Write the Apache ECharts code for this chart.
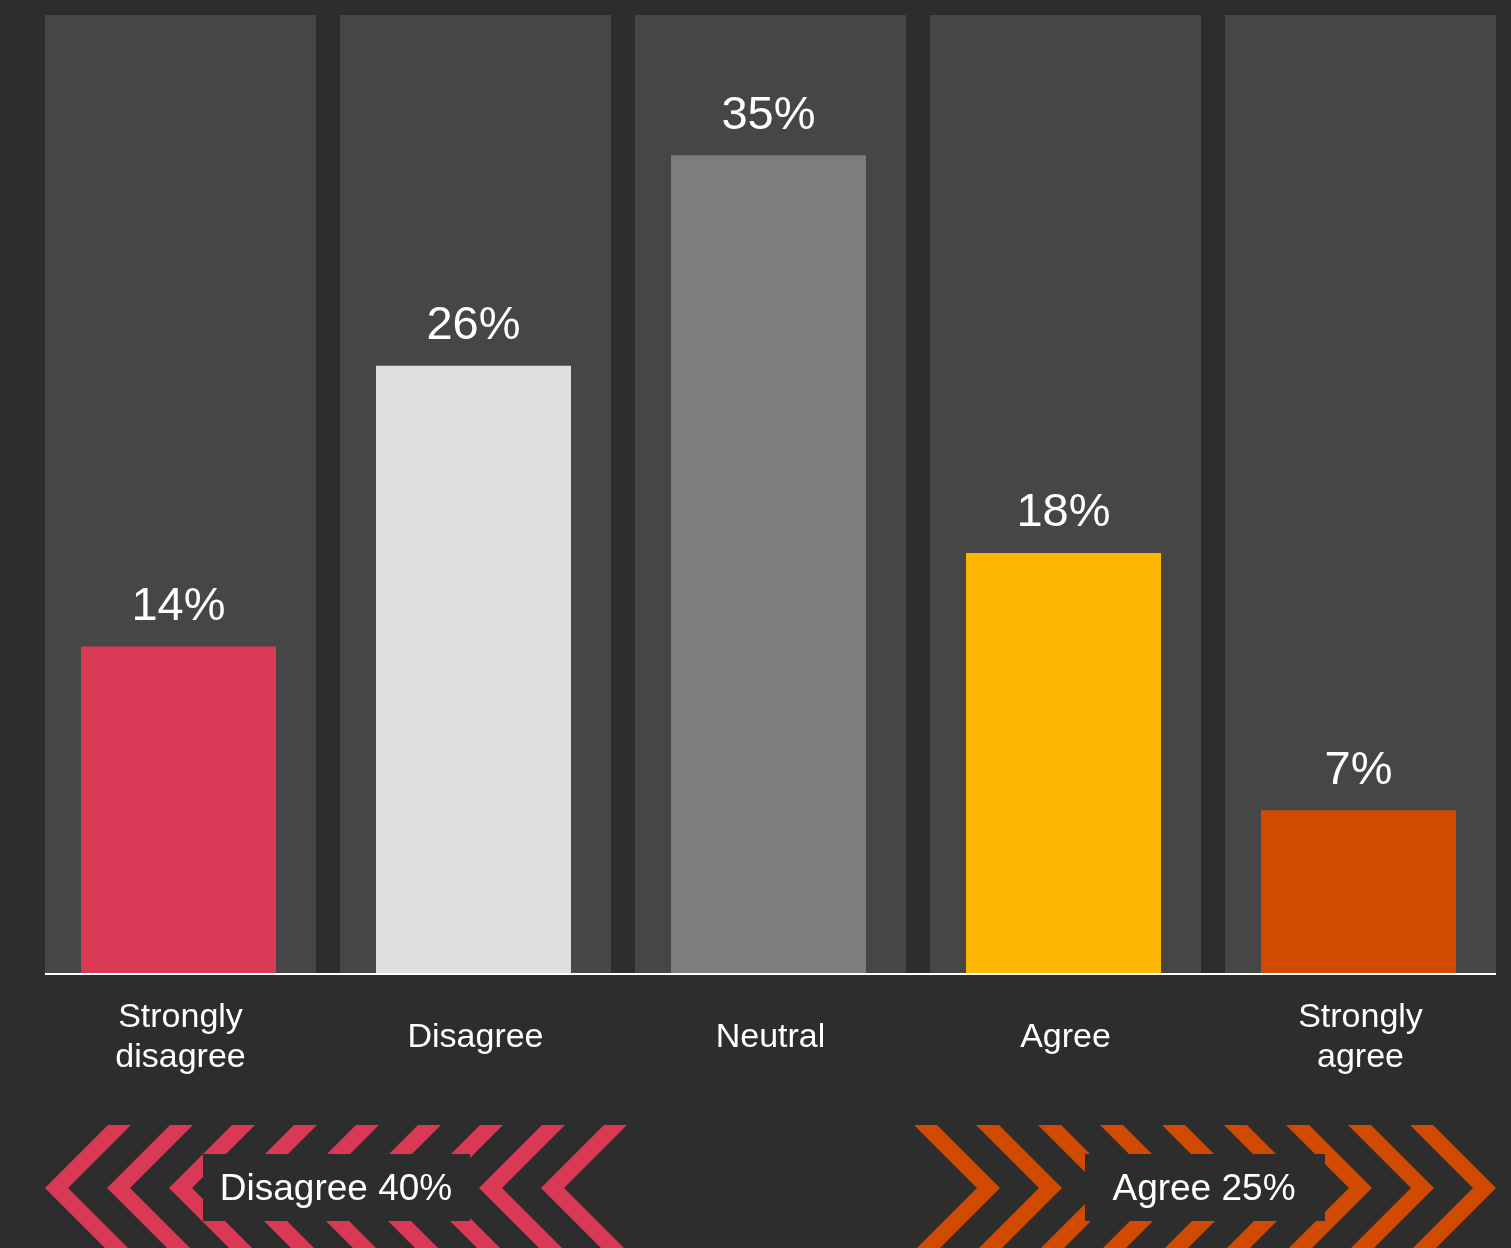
<!DOCTYPE html>
<html>
<head>
<meta charset="utf-8">
<script src="https://cdn.jsdelivr.net/npm/echarts@6/dist/echarts.min.js"></script>
<style>
  html, body { margin: 0; padding: 0; background: #2d2d2d; }
  #main { width: 1511px; height: 1248px; }
</style>
</head>
<body>
<div id="main"></div>
<script>
// data
var categories = ['Strongly\ndisagree', 'Disagree', 'Neutral', 'Agree', 'Strongly\nagree'];
var shares = [14, 26, 35, 18, 7];
var barColors = ['#d93954', '#dedede', '#7d7d7d', '#ffb600', '#d04a02'];
var columnTop = 41; // height of the grey back columns
var summaryLabels = ['Disagree 40%', 'Agree 25%'];

var chart = echarts.init(document.getElementById('main'));

// chevron bands under the chart (decoration)
function chevrons(firstTip, step, count, dir, color) {
  var els = [];
  for (var i = 0; i < count; i++) {
    var tx = firstTip + step * i;
    els.push({
      type: 'polygon',
      shape: {
        points: [
          [tx, 1188], [tx + 63 * dir, 1125], [tx + 86 * dir, 1125],
          [tx + 23 * dir, 1188], [tx + 86 * dir, 1251], [tx + 63 * dir, 1251]
        ]
      },
      style: { fill: color },
      z: 1
    });
  }
  return els;
}

var graphics = []
  .concat(chevrons(45, 62, 9, 1, '#d93954'))
  .concat(chevrons(1000, 62, 9, -1, '#d04a02'))
  .concat([
    { type: 'rect', shape: { x: 203, y: 1154, width: 267, height: 67 }, style: { fill: '#2d2d2d' }, z: 2 },
    { type: 'rect', shape: { x: 1085, y: 1154, width: 240, height: 67 }, style: { fill: '#2d2d2d' }, z: 2 },
    {
      type: 'text', x: 336, y: 1190, z: 3,
      style: { text: summaryLabels[0], fill: '#fff', font: '37px "Liberation Sans"', align: 'center', verticalAlign: 'middle' }
    },
    {
      type: 'text', x: 1204, y: 1190, z: 3,
      style: { text: summaryLabels[1], fill: '#fff', font: '37px "Liberation Sans"', align: 'center', verticalAlign: 'middle' }
    },
    // baseline
    { type: 'line', shape: { x1: 45, y1: 974, x2: 1496, y2: 974 }, style: { stroke: '#ffffff', lineWidth: 2 }, z: 10 }
  ]);

var option = {
  backgroundColor: '#2d2d2d',
  animation: false,
  grid: [
    { left: 31, right: 5, top: 15, bottom: 274 },  // coloured bars
    { left: 33, right: 3, top: 15, bottom: 274 }   // back columns + category labels
  ],
  xAxis: [
    {
      type: 'category',
      gridIndex: 0,
      data: categories,
      show: false
    },
    {
      type: 'category',
      gridIndex: 1,
      data: categories,
      axisLine: { show: false },
      axisTick: { show: false },
      axisLabel: {
        color: '#ffffff',
        fontFamily: 'Liberation Sans',
        fontSize: 34,
        lineHeight: 40,
        margin: 64,
        verticalAlign: 'middle'
      }
    }
  ],
  yAxis: [
    { type: 'value', gridIndex: 0, min: 0, max: columnTop, show: false },
    { type: 'value', gridIndex: 1, min: 0, max: columnTop, show: false }
  ],
  series: [
    {
      // back columns
      type: 'bar',
      xAxisIndex: 1,
      yAxisIndex: 1,
      barWidth: 271,
      silent: true,
      itemStyle: { color: '#464646' },
      data: categories.map(function () { return columnTop; }),
      z: 1
    },
    {
      type: 'bar',
      xAxisIndex: 0,
      yAxisIndex: 0,
      barWidth: 195,
      data: shares.map(function (v, i) {
        return { value: v, itemStyle: { color: barColors[i] } };
      }),
      label: {
        show: true,
        position: 'top',
        distance: 16,
        formatter: '{c}%',
        color: '#ffffff',
        fontFamily: 'Liberation Sans',
        fontSize: 47
      },
      z: 2
    }
  ],
  graphic: graphics
};

chart.setOption(option);
</script>
</body>
</html>
